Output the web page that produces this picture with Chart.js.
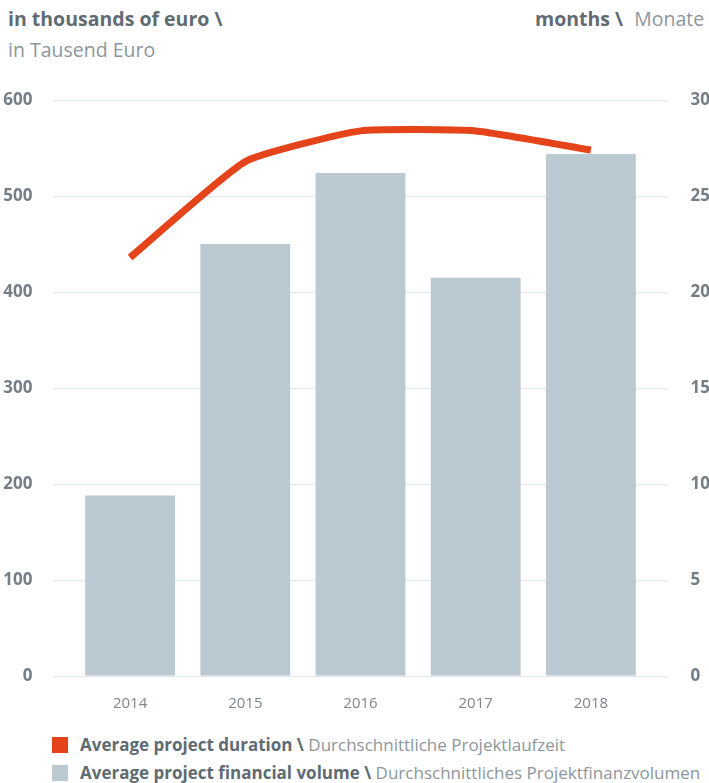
<!DOCTYPE html>
<html>
<head>
<meta charset="utf-8">
<script src="https://cdn.jsdelivr.net/npm/chart.js@4/dist/chart.umd.min.js"></script>
<style>
  html, body { margin:0; padding:0; background:#fff; width:709px; height:783px; overflow:hidden; }
  body { position:relative; font-family:"Open Sans", sans-serif; }
  .t { position:absolute; white-space:nowrap; }
  #tl1 { left:8px; top:5px; font-size:19.5px; font-weight:700; color:#5f6b73; }
  #tl2 { left:8px; top:36px; font-size:19.5px; color:#8c969c; }
  #tr1 { left:535px; top:5px; font-size:19.5px; color:#8c969c; }
  #tr1 b { color:#5f6b73; margin-right:6px; }
  #wrap { position:absolute; left:0; top:56px; width:730px; height:664px; }
  .leg { position:absolute; left:52px; font-size:17px; color:#8c969c; white-space:nowrap; line-height:20px; }
  .leg b { color:#5f6b73; font-weight:700; }
  .sw { display:inline-block; width:16px; height:16px; vertical-align:-2px; margin-right:12px; }
</style>
</head>
<body>
<div class="t" id="tl1">in thousands of euro \</div>
<div class="t" id="tl2">in Tausend Euro</div>
<div class="t" id="tr1"><b>months \</b> Monate</div>
<div id="wrap"><canvas id="c" width="730" height="664" style="width:730px;height:664px"></canvas></div>
<div class="leg" style="top:735px"><span class="sw" style="background:#e5431a"></span><b>Average project duration \</b> Durchschnittliche Projektlaufzeit</div>
<div class="leg" style="top:763px"><span class="sw" style="background:#bac9d2"></span><b>Average project financial volume \</b> Durchschnittliches Projektfinanzvolumen</div>
<script>
const years = ["2014", "2015", "2016", "2017", "2018"];
const financialVolume = [188, 450, 524, 415, 544];   // thousand euro
const projectDuration = [21.8, 26.8, 28.4, 28.4, 27.4]; // months
const leftMax = 600, leftStep = 100;
const rightMax = 30, rightStep = 5;

const extGrid = {
  id: 'extGrid',
  beforeDatasetsDraw(chart) {
    const { ctx, chartArea, scales } = chart;
    const y = scales.y;
    ctx.save();
    ctx.strokeStyle = '#e6e9eb';
    ctx.lineWidth = 1.5;
    y.ticks.forEach(t => {
      const py = Math.round(y.getPixelForValue(t.value)) + 0.5;
      ctx.beginPath();
      ctx.moveTo(chartArea.left - 20, py);
      ctx.lineTo(chartArea.right + 20, py);
      ctx.stroke();
    });
    ctx.restore();
  }
};

new Chart(document.getElementById('c'), {
  data: {
    labels: years,
    datasets: [
      {
        type: 'line', label: 'Average project duration', data: projectDuration, yAxisID: 'y1',
        borderColor: '#e5431a', borderWidth: 7, pointRadius: 0, tension: 0.15,
        borderJoinStyle: 'round', order: 0
      },
      {
        type: 'bar', label: 'Average project financial volume', data: financialVolume, yAxisID: 'y',
        backgroundColor: '#bac9d2', categoryPercentage: 1, barPercentage: 0.78, order: 1
      }
    ]
  },
  options: {
    responsive: false, animation: false, devicePixelRatio: 1,
    layout: { padding: { top: 10, bottom: 0, left: 0, right: 0 } },
    plugins: { legend: { display: false }, tooltip: { enabled: false } },
    scales: {
      x: {
        grid: { display: false }, border: { display: false },
        ticks: { color: '#7d878e', font: { family: 'Open Sans', size: 15 }, padding: 11 },
        afterFit(s) { s.height = 41; }
      },
      y: {
        position: 'left', min: 0, max: leftMax,
        grid: { display: false }, border: { display: false },
        ticks: { stepSize: leftStep, color: '#737e86', font: { family: 'Open Sans', size: 17, weight: 'bold' }, padding: 32 },
        afterFit(s) { s.width = 72.5; }
      },
      y1: {
        position: 'right', min: 0, max: rightMax,
        grid: { display: false }, border: { display: false },
        ticks: { stepSize: rightStep, color: '#737e86', font: { family: 'Open Sans', size: 17, weight: 'bold' }, padding: 34 },
        afterFit(s) { s.width = 81.5; }
      }
    }
  },
  plugins: [extGrid]
});
</script>
</body>
</html>
